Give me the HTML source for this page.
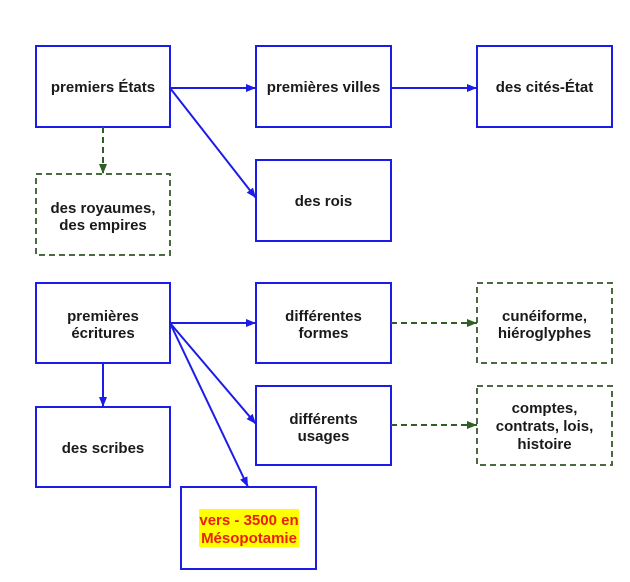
<!DOCTYPE html>
<html><head><meta charset="utf-8"><style>
html,body{margin:0;padding:0;background:#fff;}
svg{display:block;}
text{font-family:"Liberation Sans",Arial,sans-serif;font-weight:bold;font-size:15px;fill:#1a1a1a;text-anchor:middle;}
</style></head><body>
<svg width="630" height="582" viewBox="0 0 630 582" xmlns="http://www.w3.org/2000/svg">
<defs>
<marker id="ab" markerUnits="userSpaceOnUse" markerWidth="11" markerHeight="9" refX="10" refY="4" orient="auto"><path d="M0,0 L10,4 L0,8 z" fill="#1c1ce8"/></marker>
<marker id="ag" markerUnits="userSpaceOnUse" markerWidth="11" markerHeight="9" refX="10" refY="4" orient="auto"><path d="M0,0 L10,4 L0,8 z" fill="#2f5f22"/></marker>
</defs>
<g fill="#fff" stroke="#1c1ce8" stroke-width="2">
<rect x="36" y="46" width="134" height="81"/>
<rect x="256" y="46" width="135" height="81"/>
<rect x="477" y="46" width="135" height="81"/>
<rect x="256" y="160" width="135" height="81"/>
<rect x="36" y="283" width="134" height="80"/>
<rect x="256" y="283" width="135" height="80"/>
<rect x="256" y="386" width="135" height="79"/>
<rect x="36" y="407" width="134" height="80"/>
<rect x="181" y="487" width="135" height="82"/>
</g>
<g fill="#fff" stroke="#4a6a40" stroke-width="2" stroke-dasharray="6,4">
<rect x="36" y="174" width="134" height="81"/>
<rect x="477" y="283" width="135" height="80"/>
<rect x="477" y="386" width="135" height="79"/>
</g>
<g stroke="#1c1ce8" stroke-width="2" fill="none" marker-end="url(#ab)">
<line x1="170" y1="88" x2="256" y2="88"/>
<line x1="391" y1="88" x2="477" y2="88"/>
<line x1="170" y1="88" x2="256" y2="198"/>
<line x1="103" y1="363" x2="103" y2="407"/>
<line x1="170" y1="323" x2="256" y2="323"/>
<line x1="170" y1="323" x2="256" y2="424"/>
<line x1="170" y1="323" x2="248" y2="487"/>
</g>
<g stroke="#2f5f22" stroke-width="2" fill="none" stroke-dasharray="6,4" marker-end="url(#ag)">
<line x1="103" y1="127" x2="103" y2="174"/>
<line x1="391" y1="323" x2="477" y2="323"/>
<line x1="391" y1="425" x2="477" y2="425"/>
</g>
<text x="103" y="92">premiers États</text>
<text x="323.5" y="92">premières villes</text>
<text x="544.5" y="92">des cités-État</text>
<text x="323.5" y="206">des rois</text>
<text x="103" y="213">des royaumes,</text>
<text x="103" y="230">des empires</text>
<text x="103" y="321">premières</text>
<text x="103" y="338">écritures</text>
<text x="323.5" y="321">différentes</text>
<text x="323.5" y="338">formes</text>
<text x="544.5" y="321">cunéiforme,</text>
<text x="544.5" y="338">hiéroglyphes</text>
<text x="323.5" y="424">différents</text>
<text x="323.5" y="441">usages</text>
<text x="544.5" y="413">comptes,</text>
<text x="544.5" y="431">contrats, lois,</text>
<text x="544.5" y="449">histoire</text>
<text x="103" y="453">des scribes</text>
<rect x="199" y="509" width="100" height="38" fill="#ffff00"/>
<text x="249" y="525" style="fill:#e8200c">vers - 3500 en</text>
<text x="249" y="543" style="fill:#e8200c">Mésopotamie</text>
</svg>
</body></html>
